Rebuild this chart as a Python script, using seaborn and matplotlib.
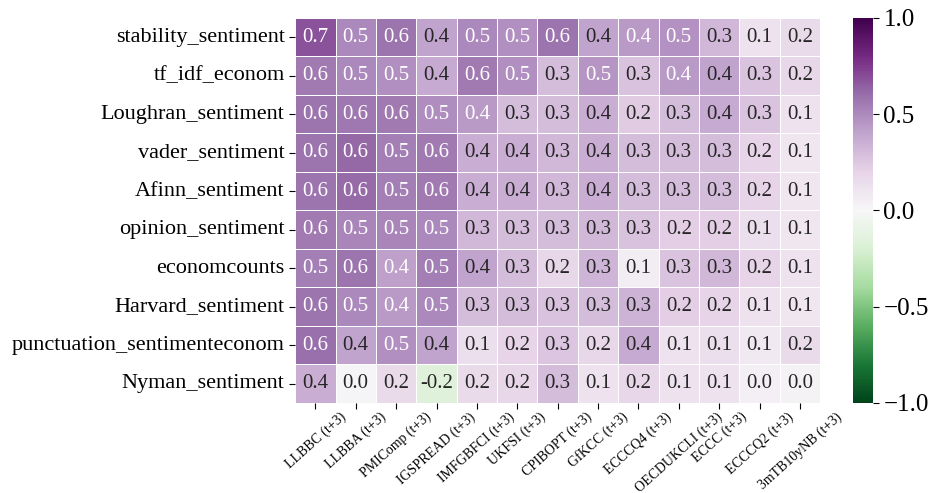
import matplotlib
matplotlib.use("Agg")
import matplotlib.pyplot as plt
import seaborn as sns
import numpy as np
import pandas as pd

plt.rcParams['font.family'] = ['Liberation Serif', 'DejaVu Serif']

rows = ["stability_sentiment", "tf_idf_econom", "Loughran_sentiment", "vader_sentiment",
        "Afinn_sentiment", "opinion_sentiment", "economcounts", "Harvard_sentiment",
        "punctuation_sentimenteconom", "Nyman_sentiment"]
cols = ["LLBBC (t+3)", "LLBBA (t+3)", "PMIComp (t+3)", "IGSPREAD (t+3)", "IMFGBFCI (t+3)",
        "UKFSI (t+3)", "CPIBOPT (t+3)", "GfKCC (t+3)", "ECCCQ4 (t+3)", "OECDUKCLI (t+3)",
        "ECCC (t+3)", "ECCCQ2 (t+3)", "3mTB10yNB (t+3)"]

stability_sentiment = [0.68, 0.50, 0.58, 0.40, 0.50, 0.48, 0.58, 0.40, 0.44, 0.47, 0.32, 0.12, 0.16]
tf_idf_econom = [0.56, 0.50, 0.48, 0.38, 0.56, 0.48, 0.30, 0.46, 0.28, 0.44, 0.40, 0.27, 0.18]
loughran_sentiment = [0.58, 0.57, 0.56, 0.49, 0.44, 0.30, 0.30, 0.36, 0.24, 0.30, 0.38, 0.27, 0.12]
vader_sentiment = [0.58, 0.62, 0.54, 0.56, 0.36, 0.36, 0.32, 0.36, 0.30, 0.30, 0.30, 0.20, 0.10]
afinn_sentiment = [0.58, 0.61, 0.54, 0.56, 0.36, 0.36, 0.32, 0.36, 0.30, 0.30, 0.30, 0.20, 0.10]
opinion_sentiment = [0.56, 0.52, 0.52, 0.50, 0.32, 0.30, 0.30, 0.32, 0.28, 0.22, 0.22, 0.14, 0.10]
economcounts = [0.54, 0.58, 0.42, 0.54, 0.40, 0.30, 0.18, 0.33, 0.06, 0.27, 0.32, 0.20, 0.12]
harvard_sentiment = [0.58, 0.50, 0.44, 0.50, 0.30, 0.30, 0.28, 0.30, 0.34, 0.22, 0.20, 0.12, 0.10]
punctuation_sentimenteconom = [0.60, 0.40, 0.48, 0.40, 0.14, 0.20, 0.26, 0.18, 0.38, 0.12, 0.14, 0.08, 0.16]
nyman_sentiment = [0.36, 0.02, 0.16, -0.16, 0.16, 0.18, 0.30, 0.12, 0.18, 0.12, 0.12, 0.04, 0.03]

df = pd.DataFrame([stability_sentiment, tf_idf_econom, loughran_sentiment, vader_sentiment,
                   afinn_sentiment, opinion_sentiment, economcounts, harvard_sentiment,
                   punctuation_sentimenteconom, nyman_sentiment], index=rows, columns=cols)

fig = plt.figure(figsize=(9.4, 4.93), dpi=100)
ax = fig.add_axes([0.314, 0.1826, 0.5585, 0.781])
cax = fig.add_axes([0.9074, 0.1826, 0.0213, 0.781])
sns.heatmap(df, ax=ax, cbar_ax=cax, cmap="PRGn_r", vmin=-1, vmax=1, annot=True, fmt=".1f",
            linewidths=0.6, linecolor="white", annot_kws={"fontsize": 15})
ax.set_xticklabels(cols, rotation=42, fontsize=10)
ax.set_yticklabels(rows, rotation=0, fontsize=16)
ax.tick_params(axis='y', length=4)
ax.tick_params(axis='x', length=4, pad=1)
cax.tick_params(labelsize=18, length=4)
cax.set_yticks([-1.0, -0.5, 0.0, 0.5, 1.0])
cax.set_yticklabels(["\u22121.0", "\u22120.5", "0.0", "0.5", "1.0"])
fig.savefig("out.png", dpi=100)
